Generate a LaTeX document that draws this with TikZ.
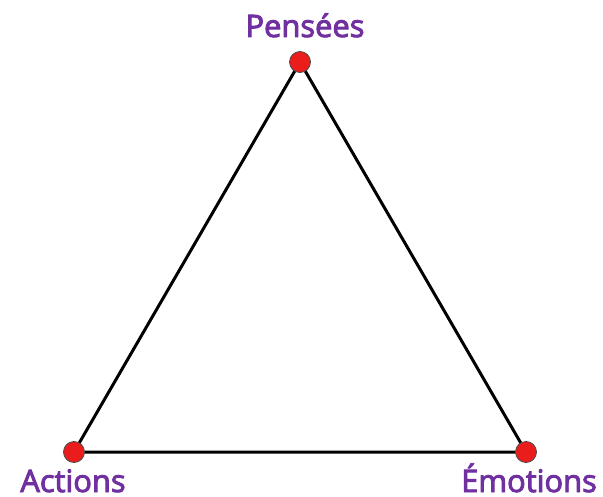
\documentclass[tikz,border=0pt]{standalone}
\usepackage{fontspec}
\setmainfont{Open Sans}
\newfontfamily\lblfont{Open Sans}[FakeBold=3]
\definecolor{lbl}{RGB}{112,48,160}
\definecolor{dotred}{RGB}{235,28,28}
\begin{document}
\begin{tikzpicture}[x=1bp,y=-1bp,
  vtx/.style={circle,fill=dotred,draw=black!70,line width=0.8bp,inner sep=0pt,minimum size=21bp},
  edge/.style={line width=3bp,black},
  lab/.style={text=lbl,font=\lblfont\fontsize{31}{31}\selectfont,inner sep=0pt,anchor=base}]
\useasboundingbox (0,0) rectangle (603,497);
\coordinate (P) at (300,62);
\coordinate (A) at (74,452);
\coordinate (E) at (526,452);
\draw[edge,line join=round] (P) -- (A) -- (E) -- cycle;
\node[vtx] (vp) at (P) {};
\node[vtx] (va) at (A) {};
\node[vtx] (ve) at (E) {};
\node[lab] (lp) at (305,37) {Pensées};
\node[lab] (la) at (73,492) {Actions};
\node[lab] (le) at (529,492) {Émotions};
\end{tikzpicture}
\end{document}
